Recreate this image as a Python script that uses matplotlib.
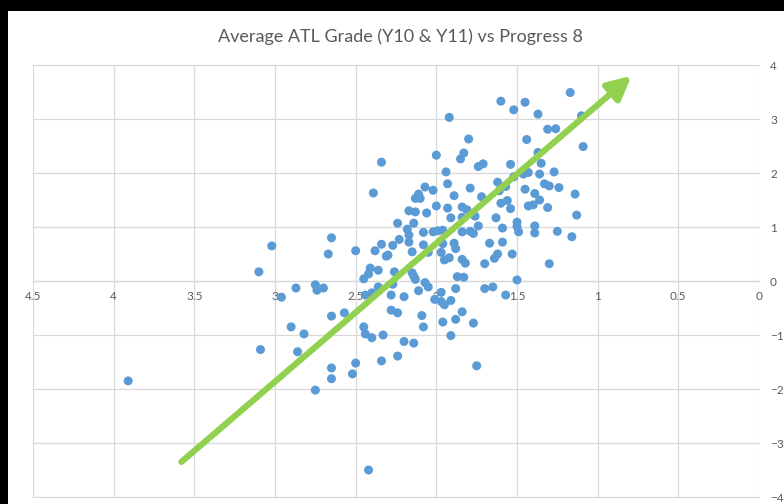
import numpy as np
import matplotlib
matplotlib.use('Agg')
import matplotlib.pyplot as plt
from matplotlib.patches import Rectangle

# average ATL grade (x) vs Progress 8 (y)
atl_grade = [
    3.91, 3.02, 3.10, 2.96, 2.87, 2.75, 2.74, 2.70, 2.67, 2.65,
    2.50, 2.39, 2.45, 2.42, 2.41, 2.38, 2.36, 2.36, 2.40, 2.44,
    2.45, 2.57, 2.65, 2.90, 3.09, 2.82, 2.86, 2.65, 2.65, 2.75,
    2.52, 2.50, 2.44, 2.40, 2.42, 2.33, 2.34,
    1.17, 1.60, 1.45, 1.52, 1.37, 1.10, 1.92, 1.31, 1.26, 1.09,
    1.44, 1.80, 2.34, 2.00, 1.83, 1.85, 1.71, 1.74, 1.54, 1.37,
    1.35, 1.94, 1.27, 1.46, 1.43, 1.36, 1.52, 1.93, 2.07, 2.02,
    1.79, 1.62, 1.57, 1.61, 1.45, 1.33, 1.30, 1.24, 1.39, 1.14,
    2.11, 2.13, 2.10, 1.89, 1.72, 1.56, 1.36, 1.60, 1.54, 1.43,
    1.40, 1.31, 1.13, 2.17, 2.13, 2.06, 2.00, 1.93, 1.84, 1.81,
    1.91, 1.84, 1.76, 1.63, 2.24, 2.14, 2.18, 1.74, 1.50, 1.50,
    1.39, 1.59, 1.49, 1.39, 1.25, 1.16, 2.02, 1.99, 1.96, 1.84,
    1.79, 1.77, 2.17, 2.23, 2.08, 2.34, 2.27, 2.17, 2.08, 1.96,
    1.89, 1.67, 1.59, 2.30, 2.31, 2.15, 2.05, 1.97, 1.88, 1.95,
    1.92, 1.84, 1.82, 1.70, 1.64, 1.62, 1.53, 1.30, 2.26, 2.15,
    2.14, 1.87, 1.83, 1.50, 2.13, 2.07, 2.05, 2.27, 2.11, 1.97,
    1.88, 1.70, 1.65, 1.57, 2.20, 2.28,
    2.01, 1.97, 1.95, 1.91, 2.28, 2.24, 2.09, 2.08, 1.96, 1.88,
    1.84, 1.77, 1.91, 2.20, 2.14, 2.24, 1.75,
]
progress8 = [
    -1.85, 0.65, 0.17, -0.30, -0.13, -0.07, -0.17, -0.13, 0.50, 0.80,
    0.56, 1.63, 0.04, 0.13, 0.24, 0.56, 0.20, -0.11, -0.22, -0.26,
    -0.85, -0.59, -0.65, -0.85, -1.27, -0.98, -1.31, -1.61, -1.81, -2.02,
    -1.72, -1.52, -0.98, -1.05, -3.50, -1.00, -1.48,
    3.49, 3.33, 3.31, 3.17, 3.09, 3.06, 3.03, 2.81, 2.82, 2.49,
    2.62, 2.63, 2.20, 2.33, 2.37, 2.26, 2.17, 2.12, 2.16, 2.38,
    2.18, 2.02, 2.02, 1.98, 2.01, 1.98, 1.93, 1.80, 1.74, 1.68,
    1.72, 1.83, 1.75, 1.67, 1.70, 1.80, 1.76, 1.73, 1.62, 1.61,
    1.61, 1.53, 1.53, 1.58, 1.56, 1.49, 1.50, 1.44, 1.34, 1.39,
    1.41, 1.36, 1.22, 1.30, 1.28, 1.26, 1.39, 1.35, 1.37, 1.32,
    1.17, 1.18, 1.20, 1.17, 1.07, 1.07, 0.96, 1.02, 1.09, 1.01,
    1.02, 0.98, 0.91, 0.89, 0.92, 0.82, 0.91, 0.93, 0.94, 0.91,
    0.92, 0.88, 0.85, 0.77, 0.90, 0.68, 0.66, 0.72, 0.67, 0.69,
    0.70, 0.70, 0.72, 0.48, 0.46, 0.54, 0.53, 0.53, 0.60, 0.39,
    0.43, 0.40, 0.33, 0.32, 0.42, 0.50, 0.50, 0.32, 0.17, 0.15,
    0.09, 0.08, 0.07, 0.02, 0.03, -0.03, -0.11, -0.06, -0.18, -0.21,
    -0.14, -0.14, -0.11, -0.26, -0.29, -0.26,
    -0.34, -0.38, -0.44, -0.36, -0.54, -0.59, -0.64, -0.85, -0.76, -0.71,
    -0.57, -0.78, -1.01, -1.12, -1.15, -1.39, -1.57,
]

# hand-drawn trend arrow (data coords)
arrow_start = (3.58, -3.35)
arrow_end = (0.79, 3.80)

x_ticks = [4.5, 4, 3.5, 3, 2.5, 2, 1.5, 1, 0.5, 0]
x_labels = ['4.5', '4', '3.5', '3', '2.5', '2', '1.5', '1', '0.5', '0']
y_ticks = [-4, -3, -2, -1, 0, 1, 2, 3, 4]

title = 'Average ATL Grade (Y10 & Y11) vs Progress 8'

grey_text = '#595959'
grid_col = '#D9D9D9'

plt.rcParams['font.family'] = ['Lato', 'DejaVu Sans']

fig = plt.figure(figsize=(7.84, 5.04), dpi=100, facecolor='black')
# white chart area (black strip at top and left as in the screenshot)
fig.patches.append(Rectangle((8 / 784, 0), 1, 1 - 11 / 504, transform=fig.transFigure,
                             facecolor='white', edgecolor='none', zorder=-5))

ax = fig.add_axes([33 / 784, 7 / 504, 726 / 784, 432 / 504])
ax.set_facecolor('white')

ax.scatter(atl_grade, progress8, s=42, color='#5B9BD5', edgecolors='none', zorder=3)

ax.annotate('', xy=arrow_end, xytext=arrow_start,
            arrowprops=dict(arrowstyle='-|>,head_length=1.4,head_width=0.7',
                            color='#92D050', lw=4.5, shrinkA=0, shrinkB=0),
            zorder=4)

ax.set_xlim(4.5, 0)
ax.set_ylim(-4, 4)
ax.set_xticks(x_ticks)
ax.set_xticklabels(x_labels)
ax.set_yticks(y_ticks)

ax.grid(True, color=grid_col, lw=0.9)
ax.set_axisbelow(True)
for gl in ax.get_xgridlines() + ax.get_ygridlines():
    gl.set_clip_on(False)

for side in ['left', 'right', 'top']:
    ax.spines[side].set_visible(False)
ax.spines['bottom'].set_position(('data', 0))
ax.spines['bottom'].set_color(grid_col)
ax.spines['bottom'].set_linewidth(0.9)

ax.yaxis.tick_right()
ax.tick_params(axis='x', length=0, pad=7, labelsize=8.5, labelcolor=grey_text)
ax.tick_params(axis='y', length=0, pad=8, labelsize=8.5, labelcolor=grey_text)

fig.text(400 / 784, 1 - 37 / 504, title, ha='center', va='center',
         fontsize=13, color=grey_text)

fig.savefig('out.png', dpi=100, facecolor=fig.get_facecolor())
